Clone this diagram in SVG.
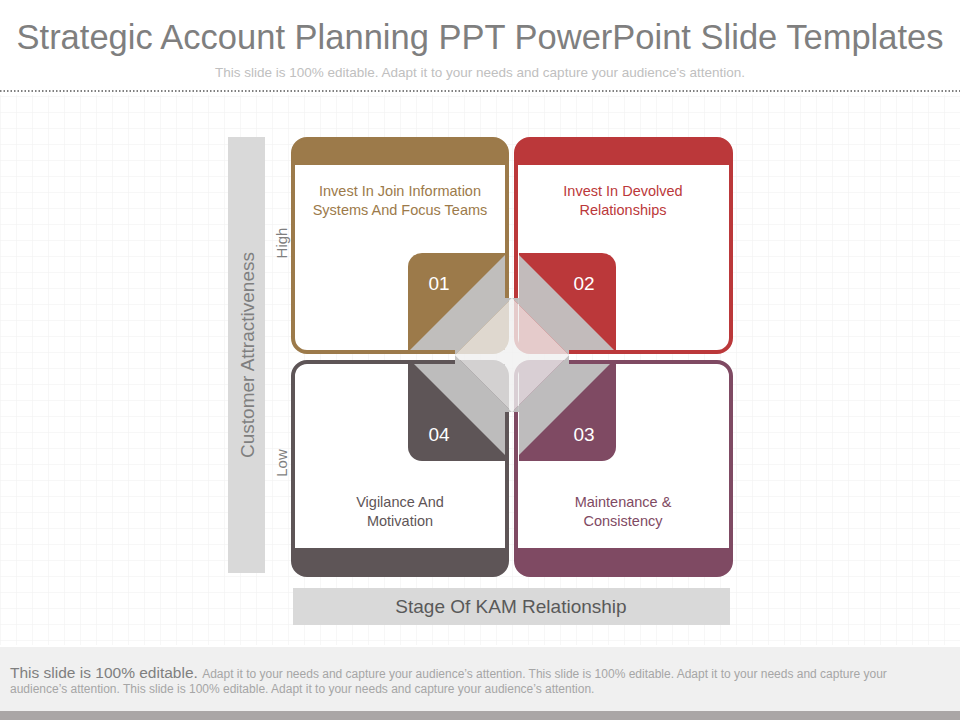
<svg xmlns="http://www.w3.org/2000/svg" width="960" height="720" viewBox="0 0 960 720">
<defs>
<pattern id="grid" width="16" height="16" patternUnits="userSpaceOnUse"><path d="M16 0H0V16" fill="none" stroke="#f0f0f0" stroke-width="1"/></pattern>
<clipPath id="sq"><rect x="408" y="253" width="97" height="97"/><rect x="519" y="253" width="97" height="97"/><rect x="408" y="364" width="97" height="97"/><rect x="519" y="364" width="97" height="97"/><rect x="505" y="298" width="14" height="114"/><rect x="455" y="350" width="114" height="14"/></clipPath>
</defs>
<style>
text{font-family:"Liberation Sans",Arial,sans-serif}
.lbl{font-size:14.5px;text-anchor:middle}
.num{font-size:19px;fill:#fff;text-anchor:middle}
</style>
<rect width="960" height="720" fill="#fff"/>
<rect y="95" width="960" height="550" fill="url(#grid)"/>
<text x="480" y="49" font-size="34.5" fill="#7f7f7f" text-anchor="middle">Strategic Account Planning PPT PowerPoint Slide Templates</text>
<text x="480" y="77" font-size="13.5" fill="#c0c0c0" text-anchor="middle">This slide is 100% editable. Adapt it to your needs and capture your audience's attention.</text>
<line x1="0" y1="91" x2="960" y2="91" stroke="#555" stroke-width="1.5" stroke-dasharray="1.5,2"/>
<g id="yaxis"><rect x="228" y="137" width="37" height="436" fill="#d9d9d9"/>
<text transform="translate(254,355) rotate(-90)" font-size="19" fill="#7f7f7f" text-anchor="middle">Customer Attractiveness</text>
<text transform="translate(287,243) rotate(-90)" font-size="15" fill="#7f7f7f" text-anchor="middle">High</text>
<text transform="translate(287,463) rotate(-90)" font-size="15" fill="#7f7f7f" text-anchor="middle">Low</text></g>
<g id="xaxis"><rect x="293" y="588" width="437" height="37" fill="#d9d9d9"/>
<text x="511" y="613" font-size="19" fill="#595959" text-anchor="middle">Stage Of KAM Relationship</text></g>
<g id="q1"><rect x="293" y="139" width="214" height="213" rx="14" fill="#fff" stroke="#9c7a4a" stroke-width="4"/><path d="M293 165V153a14 14 0 0 1 14-14h186a14 14 0 0 1 14 14v12z" fill="#9c7a4a"/>
<text class="lbl" fill="#9c7a4a" x="400" y="196">Invest  In  Join Information</text><text class="lbl" fill="#9c7a4a" x="400" y="215">Systems  And  Focus Teams</text></g>
<g id="q2"><rect x="516" y="139" width="215" height="213" rx="14" fill="#fff" stroke="#bb383a" stroke-width="4"/><path d="M516 165V153a14 14 0 0 1 14-14h187a14 14 0 0 1 14 14v12z" fill="#bb383a"/>
<text class="lbl" fill="#bb383a" x="623" y="196">Invest  In  Devolved</text><text class="lbl" fill="#bb383a" x="623" y="215">Relationships</text></g>
<g id="q4"><rect x="293" y="362" width="214" height="213" rx="14" fill="#fff" stroke="#5e5557" stroke-width="4"/><path d="M293 548v13a14 14 0 0 0 14 14h186a14 14 0 0 0 14-14v-13z" fill="#5e5557"/>
<text class="lbl" fill="#5e5557" x="400" y="507">Vigilance And</text><text class="lbl" fill="#5e5557" x="400" y="526">Motivation</text></g>
<g id="q3"><rect x="516" y="362" width="215" height="213" rx="14" fill="#fff" stroke="#7f4a63" stroke-width="4"/><path d="M516 548v13a14 14 0 0 0 14 14h187a14 14 0 0 0 14-14v-13z" fill="#7f4a63"/>
<text class="lbl" fill="#7f4a63" x="623" y="507">Maintenance  &amp;</text><text class="lbl" fill="#7f4a63" x="623" y="526">Consistency</text></g>
<g id="squares">
<path d="M408 350V267a14 14 0 0 1 14-14h83v97z" fill="#9c7a4a"/>
<path d="M519 253h83a14 14 0 0 1 14 14v83h-97z" fill="#bb383a"/>
<path d="M408 364h97v97h-83a14 14 0 0 1-14-14z" fill="#5e5557"/>
<path d="M519 364h97v83a14 14 0 0 1-14 14h-83z" fill="#7f4a63"/>
</g>
<g id="connectors">
<path clip-path="url(#sq)" d="M512 248L619 355L512 462L405 355ZM512 298L455 355L512 412L569 355Z" fill="#c2c2c2" fill-rule="evenodd" opacity="0.95"/>
<path d="M512 298L569 355L512 412L455 355Z" fill="#f0f0f0" opacity="0.8"/>
</g>
<text class="num" x="439" y="290">01</text><text class="num" x="584" y="290">02</text>
<text class="num" x="439" y="441">04</text><text class="num" x="584" y="441">03</text>
<rect x="0" y="647" width="960" height="64" fill="#f0f0f0"/>
<rect x="0" y="711" width="960" height="9" fill="#aaa6a6"/>
<text x="10" y="678" font-size="15.5" fill="#7f7f7f">This slide is 100% editable. <tspan font-size="12" fill="#a6a6a6">Adapt it to your needs and capture your audience’s attention. This slide is 100% editable. Adapt it to your needs and capture your</tspan></text>
<text x="10" y="693" font-size="12" fill="#a6a6a6">audience’s attention. This slide is 100% editable. Adapt it to your needs and capture your audience’s attention.</text>
</svg>
